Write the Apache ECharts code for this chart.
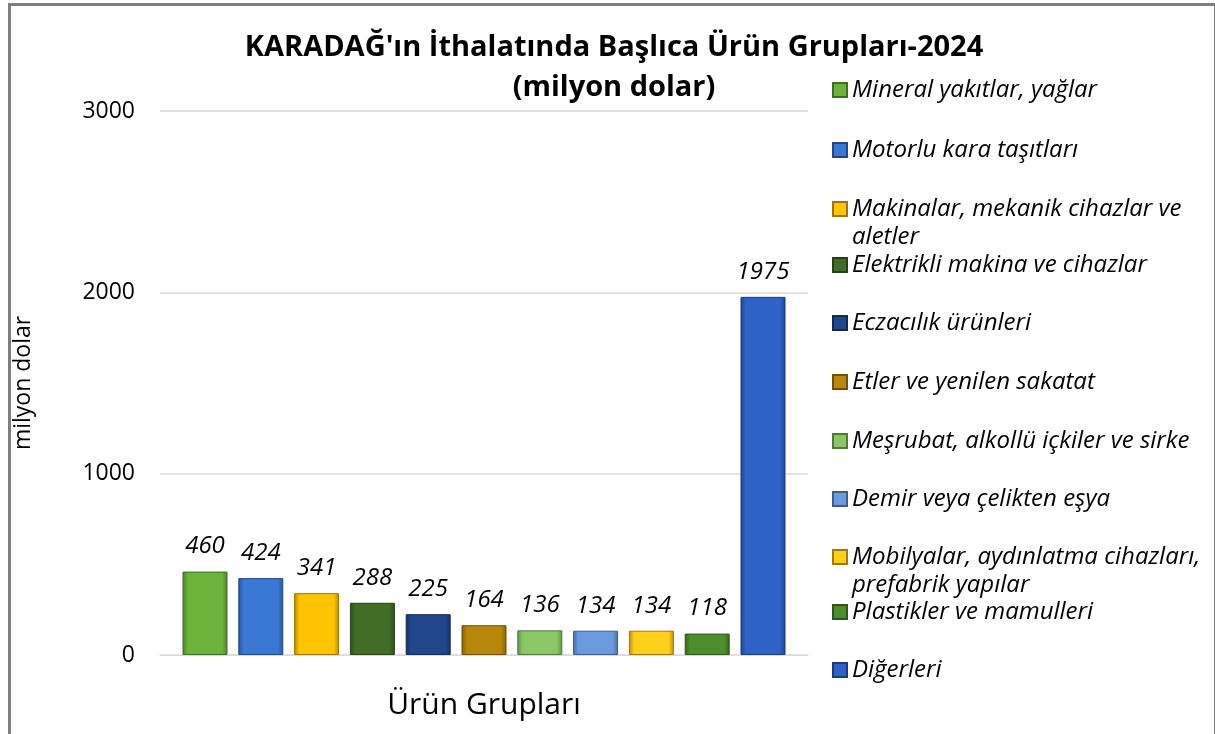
<!DOCTYPE html>
<html>
<head>
<meta charset="utf-8">
<script src="https://cdn.jsdelivr.net/npm/echarts@6/dist/echarts.min.js"></script>
<style>
  html, body { margin: 0; padding: 0; background: #fff; }
  #frame { position: absolute; left: 8px; top: 3px; width: 1203px; height: 728px;
           border-left: 3px solid #7f7f7f; border-top: 3px solid #7f7f7f;
           border-right: 3px solid #7f7f7f; border-bottom: 2px solid #d0d0d0; }
  #main { position: absolute; left: 0; top: 0; width: 1215px; height: 734px; }
</style>
</head>
<body>
<div id="frame"></div>
<div id="main"></div>
<script>
// ürün grupları (legend sırası)
var groups = [
    'Mineral yakıtlar, yağlar',
    'Motorlu kara taşıtları',
    'Makinalar, mekanik cihazlar ve\naletler',
    'Elektrikli makina ve cihazlar',
    'Eczacılık ürünleri',
    'Etler ve yenilen sakatat',
    'Meşrubat, alkollü içkiler ve sirke',
    'Demir veya çelikten eşya',
    'Mobilyalar, aydınlatma cihazları,\nprefabrik yapılar',
    'Plastikler ve mamulleri',
    'Diğerleri'
];
// milyon dolar
var values = [460, 424, 341, 288, 225, 164, 136, 134, 134, 118, 1975];
var colors = ['#6cb43c', '#3a78d6', '#ffc400', '#416d27', '#21468c', '#b8870c',
              '#8ac866', '#6a9be0', '#ffcf1a', '#4e8e2c', '#2f62c6'];
var yTicks = [0, 1000, 2000, 3000];

var FONT = '"Open Sans"';
var dom = document.getElementById('main');
var myChart = echarts.init(dom);

//颜色加深
function shade(hex, f) {
    var n = parseInt(hex.slice(1), 16);
    var r = Math.round(((n >> 16) & 255) * f),
        g = Math.round(((n >> 8) & 255) * f),
        b = Math.round((n & 255) * f);
    return 'rgb(' + r + ',' + g + ',' + b + ')';
}

var series = [];
for (var i = 0; i < groups.length; i++) {
    series.push({
        name: groups[i],
        type: 'bar',
        barWidth: 45,
        barGap: '24%',
        data: [values[i]],
        itemStyle: {
            color: new echarts.graphic.LinearGradient(0, 0, 1, 0, [
                {offset: 0, color: shade(colors[i], 0.7)},
                {offset: 0.12, color: colors[i]},
                {offset: 0.88, color: colors[i]},
                {offset: 1, color: shade(colors[i], 0.7)}
            ]),
            borderColor: shade(colors[i], 0.6),
            borderWidth: 1
        },
        label: {
            show: true,
            position: 'top',
            distance: 13,
            fontFamily: FONT,
            fontStyle: 'italic',
            fontSize: 24,
            color: '#000'
        }
    });
}

// legend: her kalem ayrı konumda
var legendY = [90, 150, 209, 265, 323, 382, 441, 499, 557, 612, 670];
var legends = [];
for (var j = 0; j < groups.length; j++) {
    var twoLine = groups[j].indexOf('\n') >= 0;
    legends.push({
        data: [groups[j]],
        left: 832,
        top: legendY[j] - (twoLine ? 42 : 14),
        padding: 0,
        icon: 'rect',
        itemWidth: 14,
        itemHeight: 14,
        itemGap: 0,
        selectedMode: false,
        // iki satırlı kalemde simge ilk satırla hizalansın
        formatter: twoLine ? function (n) { return ' \n' + n; } : '{name}',
        textStyle: {
            fontFamily: FONT,
            fontStyle: 'italic',
            fontSize: 24,
            lineHeight: 28,
            color: '#000'
        }
    });
}

var option = {
    animation: false,
    title: {
        text: "KARADAĞ'ın İthalatında Başlıca Ürün Grupları-2024\n(milyon dolar)",
        left: 614,
        textAlign: 'center',
        top: 28,
        padding: 0,
        textStyle: {
            fontFamily: FONT,
            fontWeight: 'bold',
            fontSize: 29,
            lineHeight: 40,
            color: '#000'
        }
    },
    legend: legends,
    grid: {
        left: 160,
        right: 407,
        top: 111,
        bottom: 79
    },
    xAxis: {
        type: 'category',
        data: [''],
        name: 'Ürün Grupları',
        nameLocation: 'middle',
        nameGap: 35,
        nameTextStyle: {fontFamily: FONT, fontSize: 30, color: '#000'},
        axisLine: {lineStyle: {color: '#d9d9d9'}},
        axisTick: {show: false},
        axisLabel: {show: false}
    },
    yAxis: {
        type: 'value',
        min: yTicks[0],
        max: yTicks[yTicks.length - 1],
        interval: 1000,
        name: 'milyon dolar',
        nameLocation: 'middle',
        nameRotate: 90,
        nameGap: 125,
        nameTextStyle: {fontFamily: FONT, fontSize: 23, color: '#000'},
        axisLine: {show: false},
        axisTick: {show: false},
        axisLabel: {
            fontFamily: FONT, fontSize: 23, color: '#000', margin: 25,
            formatter: function (v) { return String(v); }
        },
        splitLine: {lineStyle: {color: '#d9d9d9', width: 1.5}}
    },
    series: series
};

myChart.setOption(option, true);
</script>
</body>
</html>
